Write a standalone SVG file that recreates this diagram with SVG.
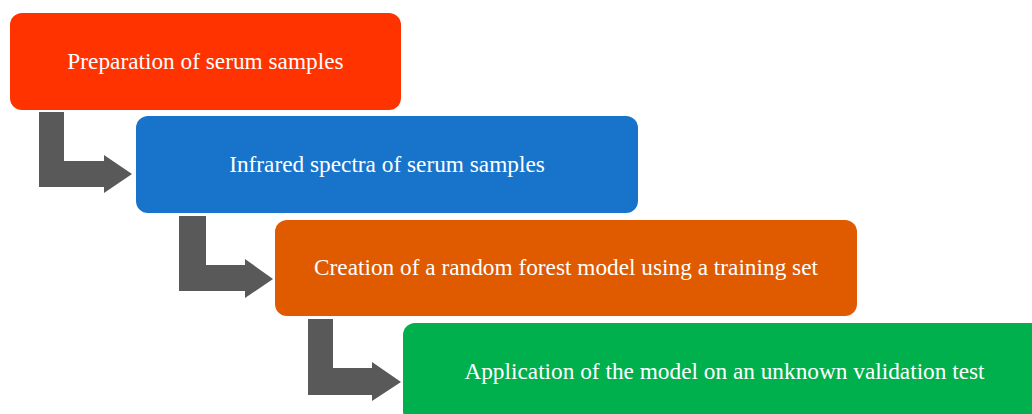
<svg xmlns="http://www.w3.org/2000/svg" width="1032" height="414" viewBox="0 0 1032 414">
<style>
.box{stroke:none}
.lbl{font-family:"Liberation Serif","DejaVu Serif",serif;font-size:23.3px;fill:#FFFFFF;text-anchor:middle}
.arr{fill:#595959}
</style>
<rect width="1032" height="414" fill="#FFFFFF"/>
<g id="connectors">
<path class="arr" d="M39,112 H64 V161 H104 V155 L132,174 L104,193 V187 H39 Z"/>
<path class="arr" d="M179,216 H206 V265 H245 V259 L273,279 L245,298 V291 H179 Z"/>
<path class="arr" d="M308,319 H333 V368 H372 V362 L401,382 L372,401 V395 H308 Z"/>
</g>
<g id="node1">
<rect class="box" x="10" y="13" width="391" height="97" rx="12" fill="#FF3300"/>
<text class="lbl" x="205.5" y="69">Preparation of serum samples</text>
</g>
<g id="node2">
<rect class="box" x="136" y="116" width="502" height="97" rx="12" fill="#1874CB"/>
<text class="lbl" x="387" y="172">Infrared spectra of serum samples</text>
</g>
<g id="node3">
<rect class="box" x="275" y="220" width="582" height="96" rx="12" fill="#E05A00"/>
<text class="lbl" x="566" y="275">Creation of a random forest model using a training set</text>
</g>
<g id="node4">
<rect class="box" x="403" y="323" width="645" height="100" rx="12" fill="#00B04C"/>
<text class="lbl" x="724.5" y="379">Application of the model on an unknown validation test</text>
</g>
</svg>
